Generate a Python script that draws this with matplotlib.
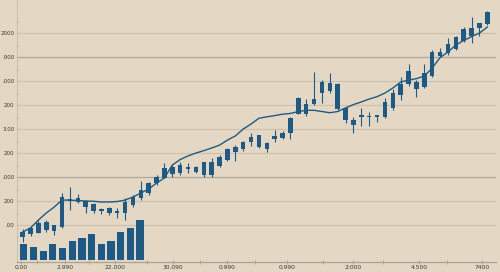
import matplotlib
matplotlib.use("Agg")
import matplotlib.pyplot as plt
import numpy as np

# candles, in grid units (one unit = one horizontal gridline)
opens = [0.49, 0.63, 0.68, 0.79, 0.76, 0.92, 2.00, 1.97, 1.75, 1.58, 1.58, 1.51, 1.49, 1.51, 1.83,
         2.11, 2.32, 2.74, 2.97, 3.11, 3.15, 3.35, 3.22, 3.08, 3.08, 3.46, 3.71, 4.05, 4.15, 4.45,
         4.24, 4.15, 4.57, 4.61, 4.82, 5.64, 5.61, 6.04, 6.49, 6.60, 5.82, 5.38, 5.17, 5.49, 5.49,
         5.50, 5.49, 5.86, 6.42, 6.88, 6.65, 6.74, 7.21, 8.04, 8.15, 8.32, 8.68, 8.88, 9.20, 9.38]
closes = [0.72, 0.89, 1.08, 1.14, 1.00, 2.17, 2.08, 2.14, 2.00, 1.88, 1.60, 1.71, 1.60, 1.97, 2.18,
          2.46, 2.76, 2.99, 3.36, 3.43, 3.50, 3.37, 3.40, 3.61, 3.64, 3.85, 4.15, 4.24, 4.47, 4.65,
          4.75, 4.43, 4.71, 4.82, 5.47, 6.30, 6.03, 6.24, 6.97, 6.90, 6.86, 5.86, 5.38, 5.58, 5.55,
          5.54, 6.14, 6.51, 6.88, 7.42, 6.97, 7.35, 8.22, 8.22, 8.54, 8.82, 9.15, 9.22, 9.40, 9.89]
lows = [0.29, 0.55, 0.67, 0.71, 0.58, 0.88, 1.63, 1.92, 1.51, 1.50, 1.45, 1.42, 1.29, 1.21, 1.76,
        2.04, 2.25, 2.67, 2.95, 3.01, 3.08, 3.15, 3.15, 3.01, 3.01, 3.40, 3.68, 3.68, 4.10, 4.29,
        4.20, 4.05, 4.47, 4.57, 4.57, 5.62, 5.54, 6.00, 6.07, 6.49, 5.79, 5.24, 4.82, 5.13, 5.13,
        5.31, 5.44, 5.79, 6.20, 6.79, 6.32, 6.70, 7.15, 8.01, 8.10, 8.29, 8.64, 8.57, 8.88, 9.33]
highs = [0.83, 0.96, 1.21, 1.21, 1.00, 2.35, 2.60, 2.29, 2.04, 1.93, 1.72, 1.76, 1.71, 2.13, 2.25,
         2.85, 2.80, 3.08, 3.57, 3.50, 3.64, 3.57, 3.46, 3.64, 3.78, 3.92, 4.20, 4.33, 4.51, 4.82,
         4.75, 4.47, 4.96, 4.93, 5.51, 6.35, 6.24, 7.39, 7.04, 7.32, 6.90, 5.93, 5.51, 5.86, 5.72,
         5.54, 6.28, 6.65, 7.15, 7.71, 7.04, 7.71, 8.29, 8.39, 8.80, 8.88, 9.24, 9.68, 9.40, 9.92]
# smoothed line drawn over the candles
trend = [0.71, 0.88, 1.21, 1.50, 1.75, 2.04, 2.04, 2.02, 2.00, 1.99, 1.96, 1.96, 1.98, 2.04, 2.17,
         2.33, 2.50, 2.75, 2.96, 3.50, 3.73, 3.88, 4.00, 4.10, 4.21, 4.33, 4.54, 4.71, 5.00, 5.21,
         5.45, 5.51, 5.56, 5.62, 5.65, 5.73, 5.78, 5.78, 5.73, 5.68, 5.73, 5.88, 6.02, 6.13, 6.25,
         6.35, 6.50, 6.71, 6.96, 7.04, 7.10, 7.21, 7.54, 7.98, 8.21, 8.50, 8.69, 8.85, 9.00, 9.25]
volume = [160, 127, 93, 160, 123, 190, 217, 260, 163, 190, 277, 320, 400]

y_labels = [".00", "200", ",000", "200", "3.00", "200", ",000", ".900", "2000"]
x_labels = ["0.00", "2.990", "22.000", "30.090", "0.990", "0.990", "2:000", "4.500", "7400"]
x_major = [-0.25, 5.37, 11.72, 19.12, 25.9, 33.52, 41.98, 50.36, 58.29]
x_minor = [1.85, 8.46, 15.75, 22.51, 29.5, 38.1, 45.79, 53.92]

BG = "#e4d8c5"
BLUE = "#1d5b86"
TXT = "#3c3a36"

fig = plt.figure(figsize=(5.0, 2.72), dpi=100, facecolor=BG)
ax = fig.add_axes([0.034, 0.0368, 0.958, 0.963], facecolor=BG)

n = len(opens)
idx = np.arange(n)
o = np.array(opens); c = np.array(closes)
lo = np.minimum(o, c)
h = np.maximum(np.abs(c - o), 0.07)
ax.vlines(idx, lows, highs, color=BLUE, lw=0.8, zorder=3)
ax.bar(idx, h, bottom=lo, width=0.58, color=BLUE, zorder=4)
ax.plot(idx, trend, color="#1f5a7f", lw=1.0, zorder=5)

ax.set_xlim(-0.72, 60.1)
ax.set_ylim(-0.54, 10.375)

for v in range(1, 10):
    dark = v in (3, 8)
    ax.axhline(v, color="#b3aa9b" if dark else "#cdc1ae", lw=1.0 if dark else 0.9, zorder=1)

ax.set_yticks(range(1, 10))
ax.set_yticklabels(y_labels)
ax.set_yticks(np.arange(0.5, 10, 1.0), minor=True)
ax.set_xticks(x_major)
ax.set_xticklabels(x_labels)
ax.set_xticks(x_minor, minor=True)
ax.tick_params(axis="y", which="both", direction="inout", length=2, width=0.5, color="#b8ae9f",
               labelsize=4.0, labelcolor=TXT, pad=0.8)
ax.tick_params(axis="x", which="both", direction="inout", length=2.5, width=0.5, color="#9c948a",
               labelsize=4.3, labelcolor=TXT, pad=1.2)
for s in ("top", "right"):
    ax.spines[s].set_visible(False)
ax.spines["left"].set_color("#c6bba9")
ax.spines["left"].set_linewidth(0.6)
ax.spines["bottom"].set_color("#aaa296")
ax.spines["bottom"].set_linewidth(0.9)

# volume bars along the lower left
vax = fig.add_axes([0.0379, 0.0441, 0.2517, 0.1838])
vax.patch.set_alpha(0)
vax.bar(np.arange(len(volume)), volume, width=0.75, color=BLUE, zorder=4)
vax.set_xlim(-0.5, len(volume) - 0.5)
vax.set_ylim(0, 500)
vax.axis("off")

fig.savefig("out.png", dpi=100, facecolor=BG)
